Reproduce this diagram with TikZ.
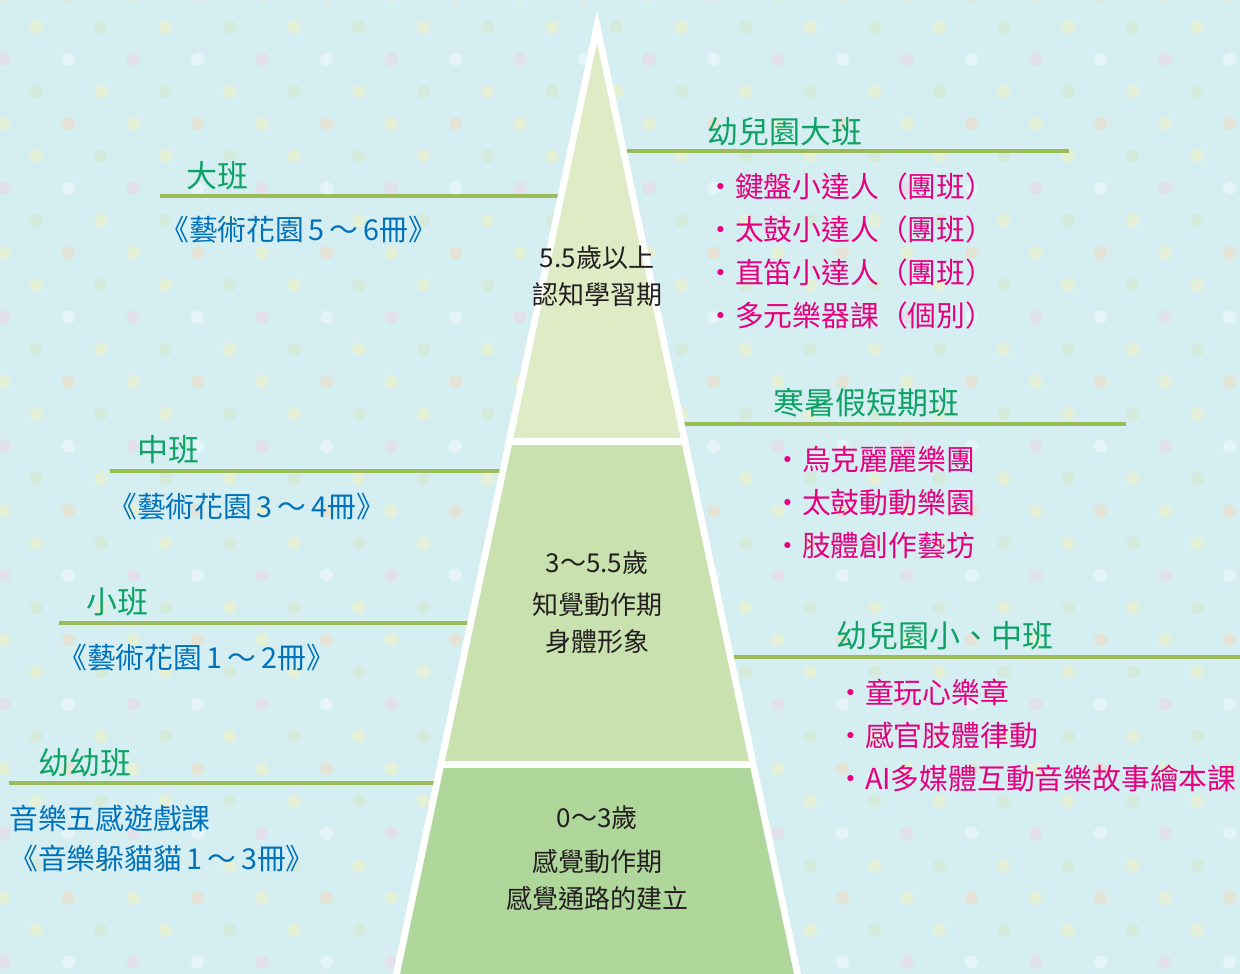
\documentclass[tikz,border=0pt]{standalone}
\usepackage{fontspec}
\setmainfont{Noto Sans CJK TC}
\definecolor{sky}{HTML}{D5EEF2}
\definecolor{rulegreen}{HTML}{9BBB59}
\definecolor{titlegreen}{HTML}{0EA266}
\definecolor{bookblue}{HTML}{0072BC}
\definecolor{itempink}{HTML}{E5007F}
\definecolor{stageblack}{HTML}{231F20}
\definecolor{layerone}{HTML}{DFEBC4}
\definecolor{layertwo}{HTML}{C9E1AF}
\definecolor{layerthree}{HTML}{AFD69B}
% dot colours, two per row of the pattern
\definecolor{dot0}{HTML}{E5F1D7}
\definecolor{dot1}{HTML}{D4EADA}
\definecolor{dot2}{HTML}{E1E0EB}
\definecolor{dot3}{HTML}{E5F4F7}
\definecolor{dot4}{HTML}{D4EADA}
\definecolor{dot5}{HTML}{E5F1D7}
\definecolor{dot6}{HTML}{E5F1D7}
\definecolor{dot7}{HTML}{E4E3D6}

\begin{document}
\begin{tikzpicture}[x = 1pt, y = -1pt,
	title/.style = {anchor = west, inner sep = 0pt, text = titlegreen, font = \fontsize{31}{36}\selectfont},
	book/.style = {anchor = west, inner sep = 0pt, text = bookblue, font = \fontsize{28.8}{40}\selectfont, align = left},
	item/.style = {anchor = west, inner sep = 0pt, text = itempink, font = \fontsize{28.8}{43}\selectfont, align = left},
	stage/.style = {inner sep = 0pt, text = stageblack, font = \fontsize{26}{37}\selectfont, align = center},
	rule/.style = {line width = 3.5pt, draw = rulegreen}]
\useasboundingbox (0,0) rectangle (1240,974);
% Background
\fill[sky] (0,0) rectangle (1240,974);
\foreach \k in {-1,...,29} {
	\foreach \n in {0,...,19} {
		\pgfmathsetmacro{\dotx}{4 + 64.5*\n + 32.25*(1 - mod(\k + 4,2))}
		\pgfmathtruncatemacro{\dotc}{2*mod(\k + 4,4) + mod(\n,2)}
		\fill[dot\dotc] (\dotx, 27 + 32.25*\k) circle (6.5);
	}
}
% Rules under the titles
\draw[rule] (160,196) -- (570,196);
\draw[rule] (110,471) -- (510,471);
\draw[rule] (59,623) -- (480,623);
\draw[rule] (9,783) -- (445,783);
\draw[rule] (615,151) -- (1069,151);
\draw[rule] (670,424) -- (1126,424);
\draw[rule] (720,657) -- (1240,657);
% Pyramid
\fill[white] (597,10) -- (393,974) -- (801,974) -- cycle;
\begin{scope}
\clip (597,43) -- (400,974) -- (794,974) -- cycle;
\fill[layerone] (380,30) rectangle (820,438);
\fill[layertwo] (380,445) rectangle (820,761);
\fill[layerthree] (380,768) rectangle (820,980);
\end{scope}
\node[stage] (upper) at (597,276) {5.5歲以上\\認知學習期};
\node[stage] (middle) at (597,602) {3～5.5歲\\[5pt]知覺動作期\\身體形象};
\node[stage] (lower) at (597,858) {0～3歲\\[7pt]感覺動作期\\感覺通路的建立};
% Left side
\node[title] (big) at (186,176) {大班};
\node[book] (bigbook) at (160,230) {《藝術花園\,5\,～\,6冊》};
\node[title] (mid) at (137,450) {中班};
\node[book] (midbook) at (108,507) {《藝術花園\,3\,～\,4冊》};
\node[title] (small) at (86,602) {小班};
\node[book] (smallbook) at (58,658) {《藝術花園\,1\,～\,2冊》};
\node[title] (baby) at (38,763) {幼幼班};
\node[book] (babybook) at (9,838) {音樂五感遊戲課\\《音樂躲貓貓\,1\,～\,3冊》};
% Right side
\node[title] (kinder) at (707,132) {幼兒園大班};
\node[item] (kinderlist) at (706,251) {‧鍵盤小達人（團班）\\‧太鼓小達人（團班）\\‧直笛小達人（團班）\\‧多元樂器課（個別）};
\node[title] (holiday) at (773,403) {寒暑假短期班};
\node[item] (holidaylist) at (773,503) {‧烏克麗麗樂團\\‧太鼓動動樂園\\‧肢體創作藝坊};
\node[title] (junior) at (836,636) {幼兒園小、中班};
\node[item] (juniorlist) at (836,735) {‧童玩心樂章\\‧感官肢體律動\\‧AI多媒體互動音樂故事繪本課};
\end{tikzpicture}
\end{document}
